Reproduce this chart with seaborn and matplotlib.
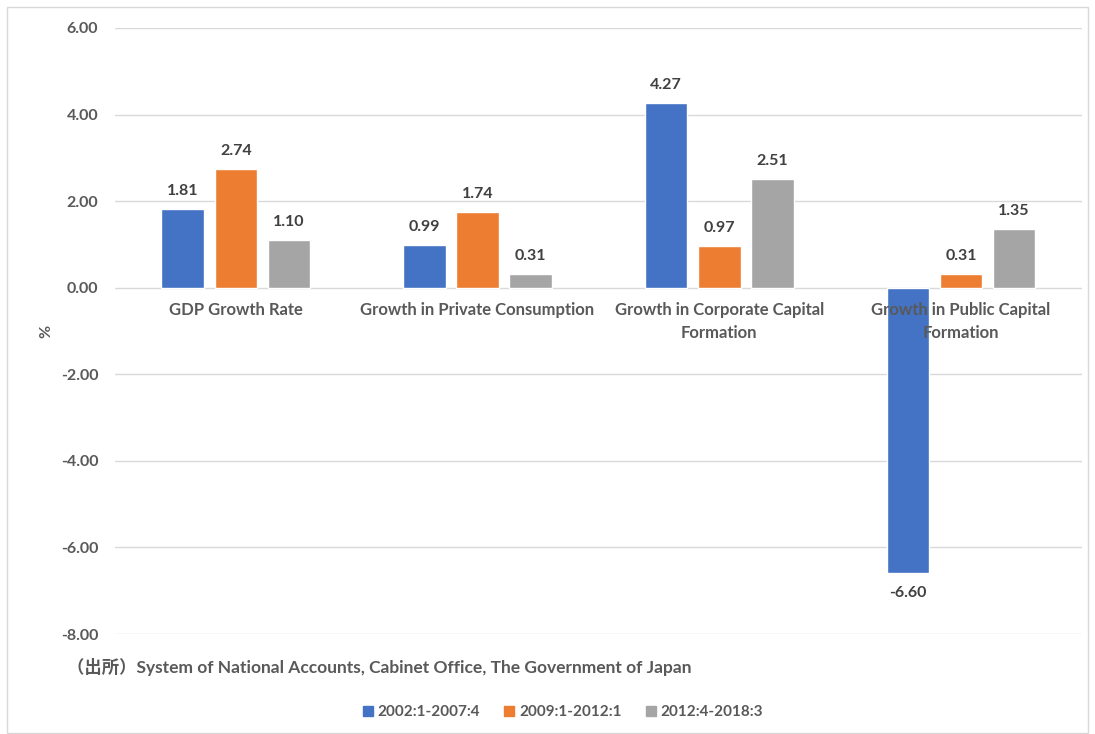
import matplotlib
matplotlib.use("Agg")
import matplotlib.pyplot as plt
import matplotlib.patches as mpatches
import seaborn as sns
import pandas as pd

categories = ["GDP Growth Rate", "Growth in Private Consumption",
              "Growth in Corporate Capital\nFormation", "Growth in Public Capital\nFormation"]
periods = ["2002:1-2007:4", "2009:1-2012:1", "2012:4-2018:3"]
s_2002_2007 = [1.81, 0.99, 4.27, -6.60]
s_2009_2012 = [2.74, 1.74, 0.97, 0.31]
s_2012_2018 = [1.10, 0.31, 2.51, 1.35]
yticks = [-8, -6, -4, -2, 0, 2, 4, 6]
colors = ["#4472C4", "#ED7D31", "#A5A5A5"]

rows = []
for per, vals in zip(periods, [s_2002_2007, s_2009_2012, s_2012_2018]):
    for c, v in zip(categories, vals):
        rows.append({"category": c, "period": per, "value": v})
df = pd.DataFrame(rows)

sns.set_style("white")
plt.rcParams['font.family'] = ['Lato', 'Noto Sans CJK JP', 'DejaVu Sans']

fig = plt.figure(figsize=(10.95, 7.34), dpi=100)
ax = fig.add_axes([0.105, 0.1362, 0.883, 0.8257])

sns.barplot(data=df, x="category", y="value", hue="period", palette=colors,
            width=0.66, gap=0.2, ax=ax, legend=False, saturation=1, errorbar=None)

ax.set_ylim(-8, 6)
ax.set_yticks(yticks)
ax.set_yticklabels([f"{t:.2f}" for t in yticks], fontsize=11.5, fontweight="bold", color="#595959")
ax.tick_params(axis="y", length=0, pad=12)
ax.set_xlim(-0.5, len(categories) - 0.5)
ax.set_xticks([])
ax.set_xlabel("")
ax.set_ylabel("%", fontsize=11.5, fontweight="bold", color="#595959")
ax.yaxis.set_label_coords(-0.064, 0.50)
for sp in ax.spines.values():
    sp.set_visible(False)
ax.grid(axis="y", color="#d9d9d9", linewidth=1)
ax.set_axisbelow(True)

# data labels
for cont in ax.containers:
    for bar in cont:
        h = bar.get_height()
        xc = bar.get_x() + bar.get_width() / 2
        if h >= 0:
            ax.annotate(f"{h:.2f}", (xc, h), xytext=(0, 8), textcoords="offset points",
                        ha="center", va="bottom", fontsize=11.5, fontweight="bold", color="#404040")
        else:
            ax.annotate(f"{h:.2f}", (xc, h), xytext=(0, -9), textcoords="offset points",
                        ha="center", va="top", fontsize=11.5, fontweight="bold", color="#404040")

# category labels just below zero line
for i, c in enumerate(categories):
    ax.annotate(c, (i, 0), xytext=(0, -10), textcoords="offset points",
                ha="center", va="top", fontsize=12, fontweight="bold", color="#595959",
                linespacing=1.55, zorder=5)

fig.text(67 / 1095, 1 - 667 / 734, "（出所）System of National Accounts, Cabinet Office, The Government of Japan",
         fontsize=12.5, fontweight="bold", color="#595959", va="center", ha="left")

handles = [mpatches.Patch(color=c, label=p) for c, p in zip(colors, periods)]
leg = fig.legend(handles=handles, loc="center", bbox_to_anchor=(563 / 1095, 1 - 712 / 734),
                 ncol=3, frameon=False, handlelength=0.65, handleheight=0.65,
                 handletextpad=0.3, columnspacing=1.6,
                 prop={"size": 11, "weight": "bold"})
for t in leg.get_texts():
    t.set_color("#595959")

fig.patches.append(mpatches.Rectangle((7 / 1095, 0.002), 1 - 14 / 1095, 1 - 8 / 734,
                                      transform=fig.transFigure, fill=False,
                                      edgecolor="#d9d9d9", linewidth=1))

fig.savefig("out.png", dpi=100)
